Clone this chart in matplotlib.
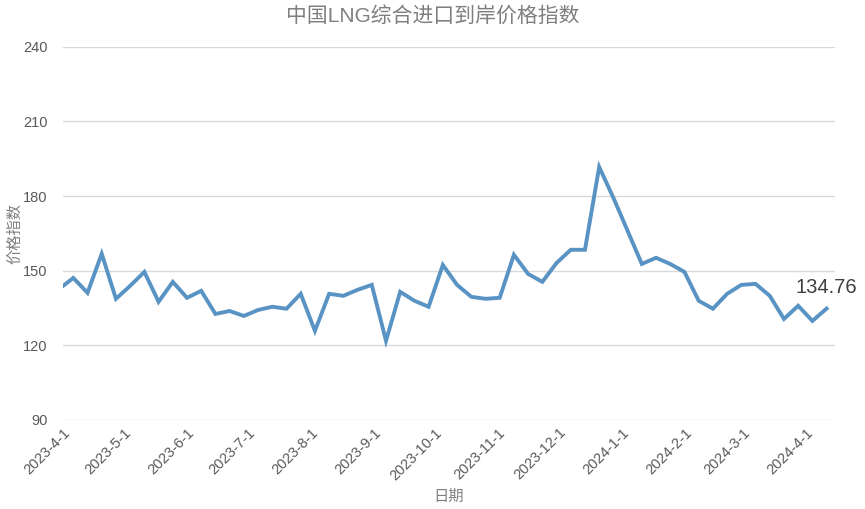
import numpy as np
import pandas as pd
import matplotlib
matplotlib.use("Agg")
import matplotlib.pyplot as plt

plt.rcParams['font.family'] = ['Liberation Sans', 'Noto Sans CJK SC']

# weekly index values
first_dates = ["2023-04-01"]
weekly_start = "2023-04-06"
values = [143.9, 147.1, 141.1, 156.8, 138.7, 143.9, 149.5, 137.5, 145.5, 139.1,
          141.9, 132.6, 133.8, 131.8, 134.2, 135.5, 134.7, 140.7, 125.8, 140.7,
          139.9, 142.3, 144.3, 121.8, 141.5, 137.9, 135.5, 152.3, 144.3, 139.5,
          138.7, 139.1, 156.4, 148.7, 145.5, 153.1, 158.4, 158.4, 191.7, 179.3,
          166.0, 152.7, 155.2, 152.7, 149.5, 137.9, 134.7, 140.7, 144.3, 144.7,
          139.9, 130.6, 135.9, 129.8, 134.76]
dates = pd.to_datetime(first_dates).append(
    pd.date_range(weekly_start, periods=len(values) - 1, freq="7D"))

yticks = [90, 120, 150, 180, 210, 240]
month_ticks = pd.date_range("2023-04-01", "2024-04-01", freq="MS")
month_labels = [f"{d.year}-{d.month}-1" for d in month_ticks]

fig = plt.figure(figsize=(8.65, 5.09), dpi=100)
ax = fig.add_axes([0.073, 0.175, 0.892, 0.733])

ax.plot(dates, values, color="#5893c4", lw=2.8, solid_joinstyle="miter")

ax.set_ylim(90, 240)
ax.set_yticks(yticks)
ax.set_xlim(dates[0], dates[-1] + pd.Timedelta(days=4))
ax.set_xticks(month_ticks)
ax.set_xticklabels(month_labels, rotation=45, ha="right", rotation_mode="anchor")

ax.grid(axis="y", color="#d9d9d9", lw=1)
ax.set_axisbelow(True)
for s in ax.spines.values():
    s.set_visible(False)
ax.tick_params(axis="both", length=0, colors="#595959", labelsize=10.5)
ax.tick_params(axis="y", pad=11)
ax.tick_params(axis="x", pad=4)

ax.set_xlabel("日期", color="#7f7f7f", fontsize=11, labelpad=5)
ax.set_ylabel("价格指数", color="#7f7f7f", fontsize=11)
ax.yaxis.set_label_coords(-0.053, 0.5)
fig.text(0.5, 0.968, "中国LNG综合进口到岸价格指数", ha="center", va="center",
         color="#7f7f7f", fontsize=15)

ax.annotate(f"{values[-1]:.2f}", (dates[-1], values[-1]), xytext=(0, 8),
            textcoords="offset points", ha="center", va="bottom",
            fontsize=14.5, color="#404040")

fig.savefig("out.png", dpi=100)
